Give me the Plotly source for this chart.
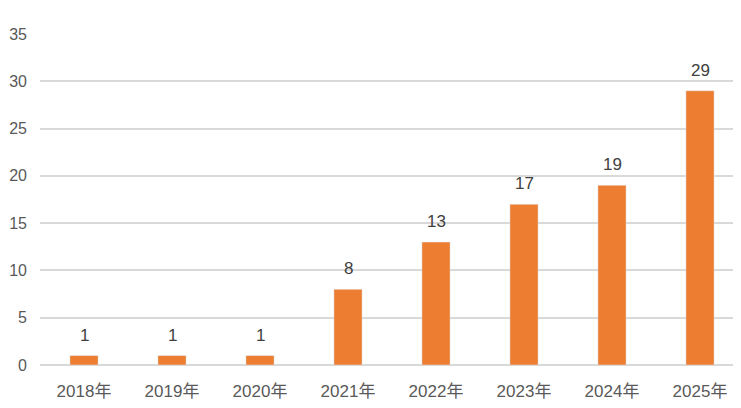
import plotly.graph_objects as go

years = ["2018年", "2019年", "2020年", "2021年", "2022年", "2023年", "2024年", "2025年"]
counts = [1, 1, 1, 8, 13, 17, 19, 29]

fig = go.Figure(go.Bar(x=years, y=counts, marker_color="#ED7D31"))

# value labels sit a little above each bar
for yr, c in zip(years, counts):
    fig.add_annotation(x=yr, y=c, text=str(c), showarrow=False, yanchor="bottom",
                       yshift=9, font=dict(size=17, color="#404040"))

# page body has an 8px margin, so margins are shifted to compensate
fig.update_layout(
    width=741, height=408,
    margin=dict(l=32, r=5, t=26, b=51),
    plot_bgcolor="white", paper_bgcolor="white",
    bargap=0.68,
    showlegend=False,
    font=dict(family="Liberation Sans, Noto Sans CJK SC, sans-serif", size=17, color="#595959"),
)
fig.update_yaxes(range=[0, 35], dtick=5, showgrid=True, gridcolor="#D9D9D9", gridwidth=1.5,
                 zeroline=True, zerolinecolor="#D9D9D9", zerolinewidth=1.5,
                 automargin=False, ticklabelstandoff=12, tickfont=dict(size=16))
fig.update_xaxes(showgrid=False, showline=False, ticks="", automargin=False, ticklabelstandoff=14)
fig.write_html("out.html")
